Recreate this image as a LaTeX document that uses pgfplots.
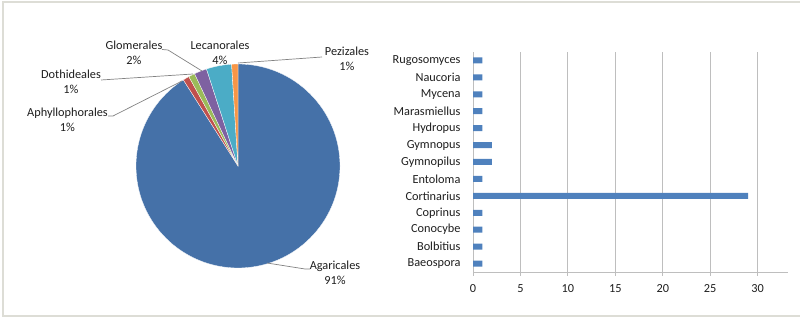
\documentclass[border=0pt]{standalone}
\usepackage{pgfplots}
\pgfplotsset{compat=1.18}
\usepackage{fontspec}
\setmainfont{Carlito}
\definecolor{cA}{HTML}{4571A8}
\definecolor{cB}{HTML}{C0504D}
\definecolor{cC}{HTML}{9BBB59}
\definecolor{cD}{HTML}{7E61A1}
\definecolor{cE}{HTML}{4BACC6}
\definecolor{cF}{HTML}{F79646}
\definecolor{barc}{HTML}{4F81BD}
\definecolor{framec}{RGB}{221,221,214}
\definecolor{gridc}{RGB}{190,190,190}
\definecolor{txt}{RGB}{30,30,30}
\definecolor{leader}{RGB}{130,130,130}
\begin{document}
\begin{tikzpicture}[x=1pt,y=1pt,font=\fontsize{12.3}{15}\selectfont\color{txt}]
\path[use as bounding box] (0,0) rectangle (800,318);
\draw[framec,line width=1.6pt] (801,316) -- (3,316) -- (3,2) -- (801,2);
% pie
\begin{axis}[x=1pt,y=1pt,xmin=0,xmax=400,ymin=0,ymax=318,hide axis,
  anchor=origin,at={(0pt,0pt)},clip=false]
\pgfplotsextra{
  \gdef\ang{90}
  \foreach \v/\col in {91/cA,1/cB,1/cC,2/cD,4/cE,1/cF}{
    \pgfmathsetmacro\endang{\ang-\v*3.6}
    \fill[\col,draw=white,line width=0.3pt] (axis cs:238,152) -- ++(\ang:102pt) arc[start angle=\ang,end angle=\endang,radius=102pt] -- cycle;
    \xdef\ang{\endang}
  }
}
\end{axis}
% leader lines
\draw[leader,line width=0.7pt] (162,268.5) -- (168,268) -- (202,247);
\draw[leader,line width=0.7pt] (101,238) -- (193,244);
\draw[leader,line width=0.7pt] (108,202) -- (113,202) -- (182,237);
\draw[leader,line width=0.7pt] (322,261) -- (238,255);
\draw[leader,line width=0.7pt] (310,49) -- (305,49) -- (267,55);
% pie labels
\node[align=center,inner sep=0] at (134,265) {Glomerales\\2\%};
\node[align=center,inner sep=0] at (220,265.5) {Lecanorales\\4\%};
\node[align=center,inner sep=0] at (347,259) {Pezizales\\1\%};
\node[align=center,inner sep=0] at (71,236.5) {Dothideales\\1\%};
\node[align=center,inner sep=0] at (67.5,198.5) {Aphyllophorales\\1\%};
\node[align=center,inner sep=0] at (335,45) {Agaricales\\91\%};
% bar chart
\begin{axis}[at={(473pt,46pt)},anchor=south west,scale only axis,width=315pt,height=220pt,
  xbar,bar width=6pt,xmin=0,xmax=33.2,ymin=-0.5,ymax=12.5,
  ytick={0,...,12},
  yticklabels={Baeospora,Bolbitius,Conocybe,Coprinus,Cortinarius,Entoloma,Gymnopilus,Gymnopus,Hydropus,Marasmiellus,Mycena,Naucoria,Rugosomyces},
  minor ytick={-0.5,0.5,...,12.5},
  xtick={0,5,...,30},
  axis x line*=bottom, axis y line*=left,
  axis line style={gridc,-,line width=0.8pt},
  xmajorgrids, grid style={gridc,line width=0.8pt},
  tick align=outside,
  major tick length=4pt, minor tick length=4pt,
  ytick style={draw=none}, minor tick style={gridc,line width=0.8pt},
  xtick style={gridc,line width=0.8pt},
  /pgf/number format/assume math mode=true,
  ticklabel style={font=\fontsize{12.3}{14}\selectfont,text=txt},
  yticklabel style={xshift=-5pt},
  xticklabel style={yshift=-5pt},
]
\addplot[fill=barc,draw=none] coordinates {
 (1,0) (1,1) (1,2) (1,3) (29,4) (1,5) (2,6) (2,7) (1,8) (1,9) (1,10) (1,11) (1,12)};
\end{axis}
\end{tikzpicture}
\end{document}
